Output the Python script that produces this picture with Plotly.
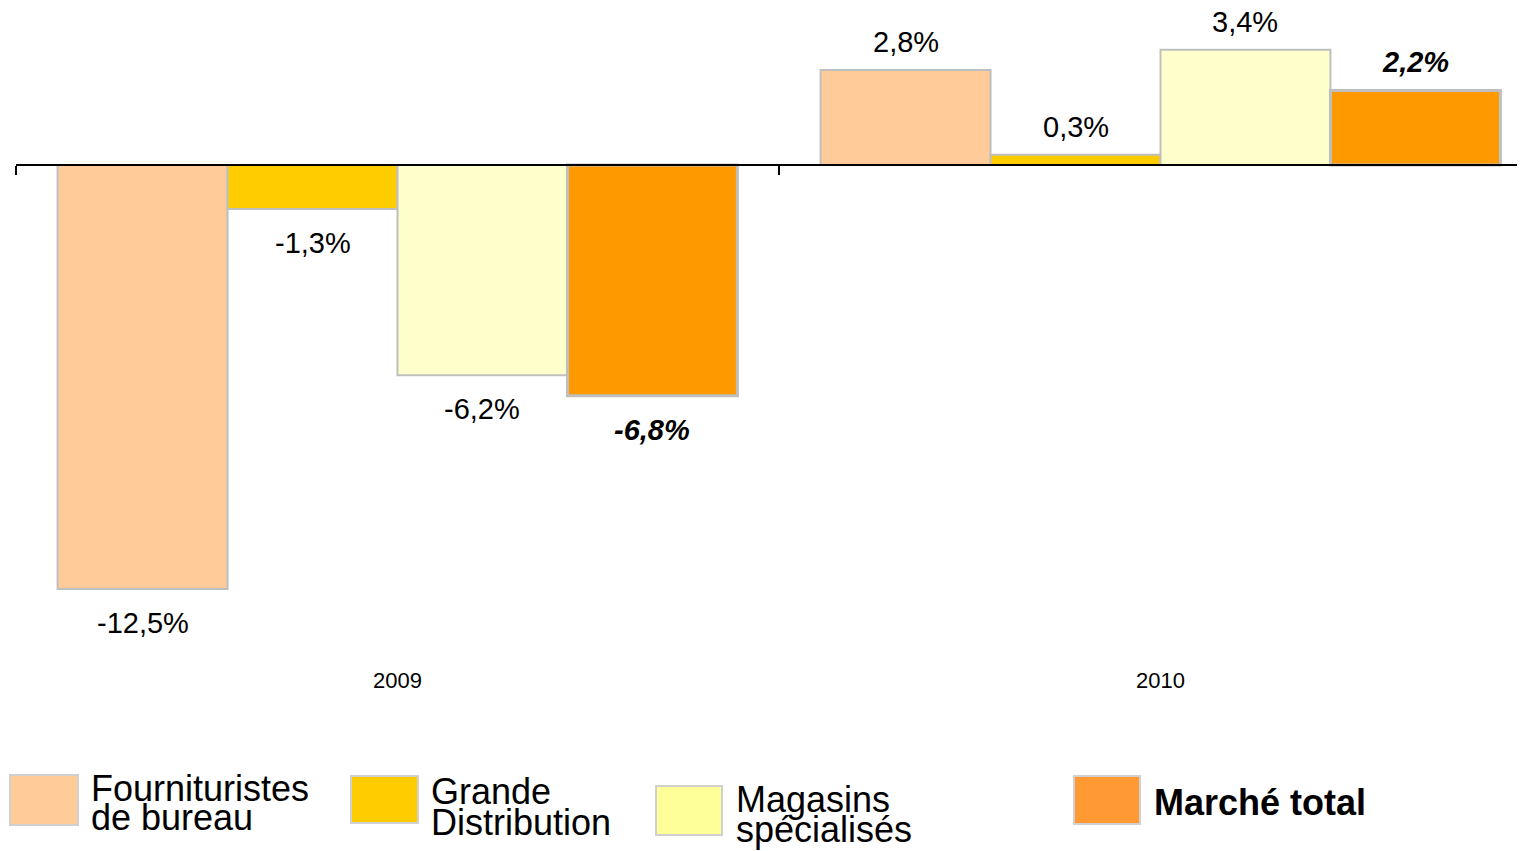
import plotly.graph_objects as go

categories = ["2009", "2010"]
series_names = ["Fournituristes de bureau", "Grande Distribution", "Magasins spécialisés", "Marché total"]
fournituristes = [-12.5, 2.8]
grande_distribution = [-1.3, 0.3]
magasins = [-6.2, 3.4]
marche_total = [-6.8, 2.2]
legend_lines = [["Fournituristes", "de bureau"], ["Grande", "Distribution"],
                ["Magasins", "spécialisés"], ["Marché total"]]

series = [fournituristes, grande_distribution, magasins, marche_total]
bar_colors = ["#FFCC99", "#FFCC00", "#FFFFCC", "#FF9900"]
key_colors = ["#FFCC99", "#FFCC00", "#FFFF99", "#FF9933"]
line_widths = [2, 2, 2, 3]

# page has an 8px body margin, so the figure is shifted by that amount
OFF = 8
W, H = 1525 - OFF, 851 - OFF
ML = 16 - OFF
PLOT_W = W - ML
PLOT_H = 700 - OFF
ZERO_Y = 165 - OFF
PX_PER_UNIT = 33.92
Y_TOP = ZERO_Y / PX_PER_UNIT
Y_BOT = -(PLOT_H - ZERO_Y) / PX_PER_UNIT
BARGAP = 0.109
FONT = "Arial, Liberation Sans, sans-serif"


def px_x(px):
    return (px - OFF - ML) / PLOT_W


def px_y(py):
    return (PLOT_H - (py - OFF)) / PLOT_H


def fmt(v):
    return f"{v:.1f}".replace(".", ",") + "%"


fig = go.Figure()
for i, vals in enumerate(series):
    fig.add_trace(go.Bar(
        x=categories, y=vals, name=series_names[i],
        marker=dict(color=bar_colors[i], line=dict(color="#BFBFBF", width=line_widths[i])),
        showlegend=False,
    ))

# value labels
w = (1 - BARGAP) / len(series)
for i, vals in enumerate(series):
    bold = i == len(series) - 1
    for j, v in enumerate(vals):
        xc = j - (1 - BARGAP) / 2 + w * (i + 0.5)
        label = f"<b><i>{fmt(v)}</i></b>" if bold else fmt(v)
        fig.add_annotation(
            x=xc, y=v, xref="x", yref="y", text=label, showarrow=False,
            yshift=28 if v >= 0 else -34,
            font=dict(size=29, color="black", family=FONT),
        )

# category labels
for j, c in enumerate(categories):
    fig.add_annotation(
        x=j, y=px_y(680), xref="x", yref="paper", text=c, showarrow=False,
        yanchor="middle", font=dict(size=22, color="black", family=FONT),
    )

# legend drawn below the plot
key_boxes = [(10, 775, 78, 825), (351, 776, 418, 823), (656, 786, 722, 835), (1074, 776, 1140, 824)]
text_x = [89, 429, 734, 1152]
text_y = [[788, 818], [791, 822], [799, 829], [802]]
for i in range(len(series)):
    x0, y0, x1, y1 = key_boxes[i]
    fig.add_shape(type="rect", xref="paper", yref="paper",
                  x0=px_x(x0), x1=px_x(x1), y0=px_y(y1), y1=px_y(y0),
                  fillcolor=key_colors[i], line=dict(color="#D0D0D0", width=2))
    for k, line in enumerate(legend_lines[i]):
        txt = f"<b>{line}</b>" if i == len(series) - 1 else line
        fig.add_annotation(
            x=px_x(text_x[i]), y=px_y(text_y[i][k]), xref="paper", yref="paper",
            text=txt, showarrow=False, xanchor="left", yanchor="middle",
            font=dict(size=36, color="black", family=FONT),
        )

fig.update_layout(
    width=W, height=H,
    margin=dict(l=ML, r=0, t=0, b=H - PLOT_H, pad=0),
    barmode="group", bargap=BARGAP, bargroupgap=0,
    plot_bgcolor="white", paper_bgcolor="white",
    font=dict(family=FONT, color="black"),
)
fig.update_xaxes(
    range=[-0.5, -0.5 + PLOT_W / 763], anchor="free",
    position=(0 - Y_BOT) / (Y_TOP - Y_BOT),
    showline=True, linecolor="black", linewidth=2,
    ticks="outside", tickson="boundaries", ticklen=9, tickwidth=2, tickcolor="black",
    showticklabels=False, showgrid=False, zeroline=False,
)
fig.update_yaxes(range=[Y_BOT, Y_TOP], visible=False, showgrid=False, zeroline=False)

fig.write_html("out.html")
